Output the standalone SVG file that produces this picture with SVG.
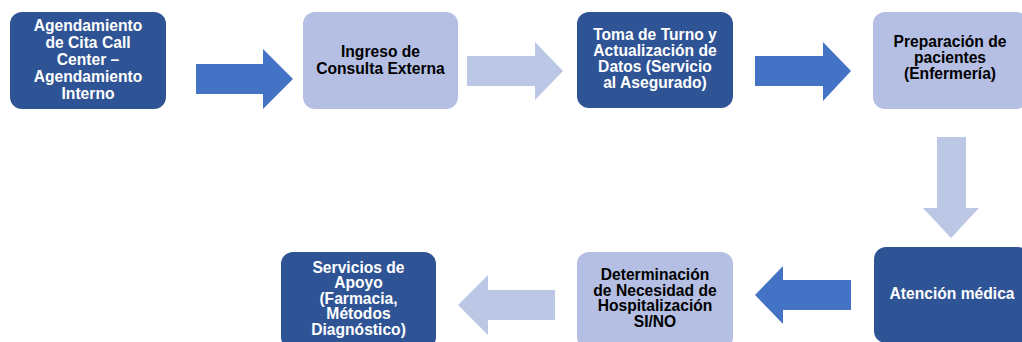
<svg xmlns="http://www.w3.org/2000/svg" width="1022" height="342" viewBox="0 0 1022 342">
<style>
.dk{fill:#2F5496}
.lt{fill:#B4BFE3}
.ad{fill:#4472C4}
.al{fill:#BCC7E6}
text{font-family:"Liberation Sans",Arial,sans-serif;font-weight:bold;font-size:17px;text-anchor:middle}
.w{fill:#FFFFFF}
.b{fill:#000000}
</style>
<rect width="1022" height="342" fill="#FFFFFF"/>
<g id="connectors">
<polygon class="ad" points="196,64 263,64 263,49 293,79 263,109 263,94 196,94"/>
<polygon class="al" points="467,56 535,56 535,42 563,71 535,100 535,86 467,86"/>
<polygon class="ad" points="755,56 823,56 823,42 851,71 823,101 823,86 755,86"/>
<polygon class="al" points="937,137 966,137 966,208 979,208 951,238 923,208 937,208"/>
<polygon class="ad" points="851,280 783,280 783,266 755,295 783,324 783,310 851,310"/>
<polygon class="al" points="555,290 488,290 488,275 458,305 488,335 488,320 555,320"/>
</g>
<g id="n1">
<rect class="dk" x="10" y="12" width="156" height="97" rx="12"/>
<text class="w" transform="translate(88,0) scale(0.92,1)"><tspan x="0" y="31.5">Agendamiento</tspan><tspan x="0" y="48.3">de Cita Call</tspan><tspan x="0" y="65.1">Center –</tspan><tspan x="0" y="81.9">Agendamiento</tspan><tspan x="0" y="98.7">Interno</tspan></text>
</g>
<g id="n2">
<rect class="lt" x="303" y="12" width="155" height="97" rx="12"/>
<text class="b" transform="translate(380.5,0) scale(0.92,1)"><tspan x="0" y="57.5">Ingreso de</tspan><tspan x="0" y="74">Consulta Externa</tspan></text>
</g>
<g id="n3">
<rect class="dk" x="577" y="12" width="156" height="96" rx="12"/>
<text class="w" transform="translate(655,0) scale(0.92,1)"><tspan x="0" y="40.5">Toma de Turno y</tspan><tspan x="0" y="56.5">Actualización de</tspan><tspan x="0" y="72.5">Datos (Servicio</tspan><tspan x="0" y="88.5">al Asegurado)</tspan></text>
</g>
<g id="n4">
<rect class="lt" x="873" y="12" width="155" height="97" rx="12"/>
<text class="b" transform="translate(950,0) scale(0.92,1)"><tspan x="0" y="47">Preparación de</tspan><tspan x="0" y="63">pacientes</tspan><tspan x="0" y="79">(Enfermería)</tspan></text>
</g>
<g id="n5">
<rect class="dk" x="874" y="247" width="156" height="96" rx="12"/>
<text class="w" transform="translate(952,0) scale(0.92,1)"><tspan x="0" y="299.5">Atención médica</tspan></text>
</g>
<g id="n6">
<rect class="lt" x="577" y="252" width="156" height="97" rx="12"/>
<text class="b" transform="translate(655,0) scale(0.92,1)"><tspan x="0" y="280.5">Determinación</tspan><tspan x="0" y="296">de Necesidad de</tspan><tspan x="0" y="311.5">Hospitalización</tspan><tspan x="0" y="327">SI/NO</tspan></text>
</g>
<g id="n7">
<rect class="dk" x="281" y="252" width="155" height="97" rx="12"/>
<text class="w" transform="translate(358.5,0) scale(0.92,1)"><tspan x="0" y="273">Servicios de</tspan><tspan x="0" y="288.5">Apoyo</tspan><tspan x="0" y="304">(Farmacia,</tspan><tspan x="0" y="319.5">Métodos</tspan><tspan x="0" y="335">Diagnóstico)</tspan></text>
</g>
</svg>
